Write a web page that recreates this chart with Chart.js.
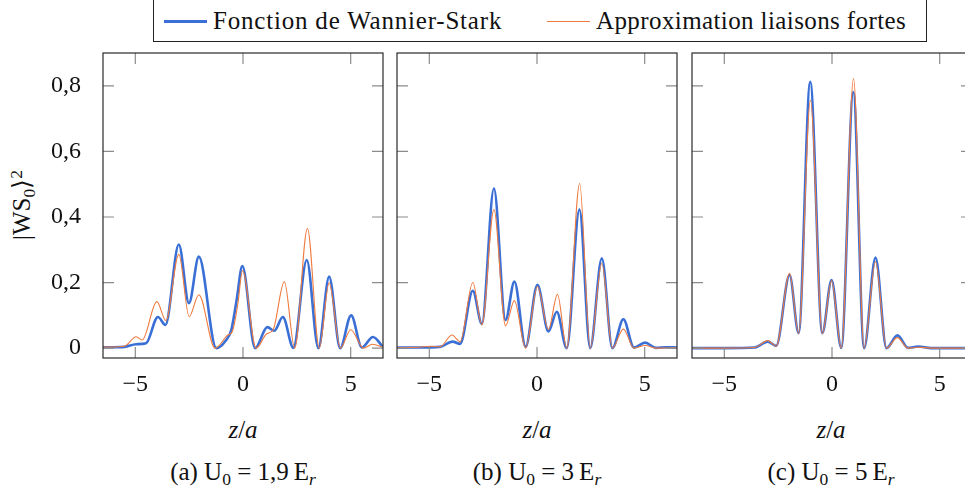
<!DOCTYPE html>
<html>
<head>
<meta charset="utf-8">
<script src="https://cdn.jsdelivr.net/npm/chart.js@4.4.0/dist/chart.umd.min.js"></script>
<style>
  html, body { margin: 0; padding: 0; background: #fff; overflow: hidden; }
  body { width: 965px; height: 495px; position: relative; font-family: "Liberation Serif", serif; color: #111; }
  canvas { position: absolute; top: 40px; }
  .txt { position: absolute; font-size: 25px; line-height: 30px; white-space: nowrap; }
  .center { text-align: center; width: 260px; }
  sub { font-size: 0.7em; vertical-align: -0.3em; line-height: 0; }
  sup { font-size: 0.7em; vertical-align: 0.45em; line-height: 0; }
  #legendBox { position: absolute; left: 153px; top: -1px; width: 774px; height: 43px; border: 1.3px solid #222; box-sizing: border-box; }
  .swatch { position: absolute; }
</style>
</head>
<body>
<div id="legendBox"></div>
<div class="swatch" style="left:164px; top:20px; width:43px; height:2.6px; background:#3a6fd6;"></div>
<div class="txt" style="left:213px; top:6px; letter-spacing:0.8px;">Fonction de Wannier-Stark</div>
<div class="swatch" style="left:547px; top:21px; width:43px; height:1.1px; background:#ee7a3e;"></div>
<div class="txt" style="left:596px; top:6px; letter-spacing:0.4px;">Approximation liaisons fortes</div>

<div class="txt center" style="left:-108px; top:190px; transform: rotate(-90deg);">|WS<sub>0</sub>⟩<sup>2</sup></div>

<canvas id="p1" width="395" height="370" style="left:0px;"></canvas>
<canvas id="p2" width="300" height="370" style="left:385px;"></canvas>
<canvas id="p3" width="300" height="370" style="left:682px;"></canvas>

<div class="txt center" style="left:113px; top:415px;"><i>z</i>/<i>a</i></div>
<div class="txt center" style="left:407px; top:415px;"><i>z</i>/<i>a</i></div>
<div class="txt center" style="left:701px; top:415px;"><i>z</i>/<i>a</i></div>

<div class="txt center" style="left:113px; top:457px;">(a) U<sub>0</sub> = 1,9&thinsp;E<sub><i>r</i></sub></div>
<div class="txt center" style="left:407px; top:457px;">(b) U<sub>0</sub> = 3&thinsp;E<sub><i>r</i></sub></div>
<div class="txt center" style="left:701px; top:457px;">(c) U<sub>0</sub> = 5&thinsp;E<sub><i>r</i></sub></div>

<script>
const xTicks = [-5, 0, 5];
const yTicks = [0, 0.2, 0.4, 0.6, 0.8];

// (a) U0 = 1,9 Er
const ws1Z = [-6.5, -6.0, -5.5, -4.96, -4.5, -3.95, -3.6, -2.98, -2.51, -2.05, -1.24, -0.78, -0.54, -0.3, -0.03, 0.56, 1.13, 1.45, 1.85, 2.34, 2.96, 3.5, 4.0, 4.51, 5.02, 5.52, 6.03, 6.5];
const ws1 = [0.003, 0.003, 0.004, 0.012, 0.015, 0.095, 0.071, 0.316, 0.137, 0.279, 0.0, 0.025, 0.056, 0.145, 0.25, 0.0, 0.064, 0.053, 0.095, 0.001, 0.269, 0.0, 0.218, 0.0, 0.1, 0.002, 0.034, 0.004];
const tb1Z = [-6.5, -5.5, -4.96, -4.68, -4.0, -3.58, -2.98, -2.5, -2.05, -1.3, -0.7, -0.5, -0.25, -0.02, 0.61, 1.09, 1.4, 1.92, 2.4, 2.99, 3.54, 4.0, 4.52, 5.0, 5.6, 6.0, 6.5];
const tb1 = [0.003, 0.006, 0.035, 0.025, 0.142, 0.084, 0.286, 0.096, 0.163, 0.0, 0.04, 0.05, 0.13, 0.236, 0.0, 0.043, 0.056, 0.203, 0.0, 0.365, 0.0, 0.199, 0.0, 0.056, 0.0, 0.012, 0.003];

// (b) U0 = 3 Er
const ws2Z = [-6.5, -5.5, -4.5, -3.92, -3.57, -2.98, -2.56, -2.0, -1.46, -1.05, -0.53, 0.02, 0.53, 0.92, 1.38, 1.97, 2.47, 3.01, 3.5, 4.01, 4.5, 5.02, 5.52, 6.0, 6.5];
const ws2 = [0.002, 0.002, 0.004, 0.02, 0.013, 0.175, 0.074, 0.487, 0.086, 0.203, 0.004, 0.193, 0.051, 0.111, 0.0, 0.423, 0.0, 0.274, 0.0, 0.088, 0.002, 0.017, 0.001, 0.003, 0.002];
const tb2Z = [-6.5, -5.5, -4.96, -4.5, -3.95, -3.57, -2.98, -2.56, -2.0, -1.46, -1.05, -0.53, 0.02, 0.53, 0.95, 1.38, 1.98, 2.47, 3.01, 3.5, 4.01, 4.5, 5.02, 5.52, 6.5];
const tb2 = [0.002, 0.003, 0.006, 0.004, 0.04, 0.02, 0.2, 0.071, 0.423, 0.068, 0.145, 0.0, 0.188, 0.057, 0.164, 0.0, 0.502, 0.0, 0.259, 0.0, 0.058, 0.0, 0.008, 0.0, 0.002];

// (c) U0 = 5 Er
const ws3Z = [-6.5, -5.0, -3.6, -2.98, -2.59, -1.97, -1.55, -1.01, -0.45, -0.02, 0.43, 0.99, 1.49, 2.02, 2.53, 3.04, 3.53, 4.0, 4.6, 6.5];
const ws3 = [0.0, 0.0, 0.002, 0.02, 0.007, 0.223, 0.046, 0.812, 0.046, 0.208, 0.001, 0.781, 0.0, 0.276, 0.0, 0.039, 0.001, 0.005, 0.0, 0.0];
const tb3Z = [-6.5, -5.0, -3.6, -2.98, -2.59, -1.97, -1.55, -1.0, -0.45, -0.02, 0.43, 1.0, 1.49, 2.02, 2.53, 3.03, 3.53, 4.0, 4.6, 6.5];
const tb3 = [0.0, 0.0, 0.002, 0.023, 0.006, 0.228, 0.044, 0.756, 0.044, 0.206, 0.0, 0.822, 0.0, 0.264, 0.0, 0.032, 0.0, 0.003, 0.0, 0.0];

const BLUE = '#3a6fd6';
const ORANGE = '#ee7a3e';
const FONT = "'Liberation Serif', serif";

Chart.defaults.font.family = FONT;

function pts(zs, vs) {
  return zs.map((z, i) => ({ x: z, y: vs[i] }));
}

// pgfplots style: ticks inside on all four sides + frame
const frameTicks = {
  id: 'frameTicks',
  afterDatasetsDraw(chart) {
    const { ctx, chartArea: a } = chart;
    const x = chart.scales.x, y = chart.scales.y;
    ctx.save();
    ctx.strokeStyle = '#8c8c8c';
    ctx.lineWidth = 1.2;
    ctx.beginPath();
    x.ticks.forEach(t => {
      const px = x.getPixelForValue(t.value);
      ctx.moveTo(px, a.bottom); ctx.lineTo(px, a.bottom - 11);
      ctx.moveTo(px, a.top); ctx.lineTo(px, a.top + 11);
    });
    y.ticks.forEach(t => {
      const py = y.getPixelForValue(t.value);
      ctx.moveTo(a.left, py); ctx.lineTo(a.left + 11, py);
      ctx.moveTo(a.right, py); ctx.lineTo(a.right - 11, py);
    });
    ctx.stroke();
    ctx.strokeStyle = '#2a2a2a';
    ctx.lineWidth = 1.2;
    ctx.strokeRect(a.left, a.top, a.right - a.left, a.bottom - a.top);
    ctx.restore();
  }
};

function makePanel(id, wsZ, ws, tbZ, tb, yWidth, rightPad, showY) {
  new Chart(document.getElementById(id), {
    type: 'line',
    data: {
      datasets: [
        { label: 'Fonction de Wannier-Stark', data: pts(wsZ, ws), borderColor: BLUE, borderWidth: 2.6, order: 2 },
        { label: 'Approximation liaisons fortes', data: pts(tbZ, tb), borderColor: ORANGE, borderWidth: 1.1, order: 1 }
      ]
    },
    options: {
      responsive: false,
      animation: false,
      devicePixelRatio: 1,
      layout: { padding: { top: 13, right: rightPad, bottom: 0, left: 0 } },
      elements: {
        point: { radius: 0 },
        line: { cubicInterpolationMode: 'monotone', fill: false }
      },
      plugins: { legend: { display: false }, tooltip: { enabled: false } },
      scales: {
        x: {
          type: 'linear', min: -6.5, max: 6.5,
          afterBuildTicks: s => { s.ticks = xTicks.map(v => ({ value: v })); },
          afterFit: s => { s.height = 52; s.paddingLeft = 0; s.paddingRight = 0; },
          grid: { display: false, drawTicks: false },
          border: { display: false },
          ticks: {
            padding: 12, color: '#111', font: { family: FONT, size: 24 },
            callback: v => v < 0 ? '\u2212' + Math.abs(v) : String(v)
          }
        },
        y: {
          type: 'linear', min: -0.03, max: 0.9,
          afterBuildTicks: s => { s.ticks = yTicks.map(v => ({ value: v })); },
          afterFit: s => { s.width = yWidth; s.paddingTop = 0; s.paddingBottom = 0; },
          grid: { display: false, drawTicks: false },
          border: { display: false },
          ticks: {
            display: showY, padding: 22, color: '#111', font: { family: FONT, size: 24 },
            callback: v => v === 0 ? '0' : v.toFixed(1).replace('.', ',')
          }
        }
      }
    },
    plugins: [frameTicks]
  });
}

makePanel('p1', ws1Z, ws1, tb1Z, tb1, 103, 12, true);
makePanel('p2', ws2Z, ws2, tb2Z, tb2, 12, 8, false);
makePanel('p3', ws3Z, ws3, tb3Z, tb3, 10, 10, false);
</script>
</body>
</html>
